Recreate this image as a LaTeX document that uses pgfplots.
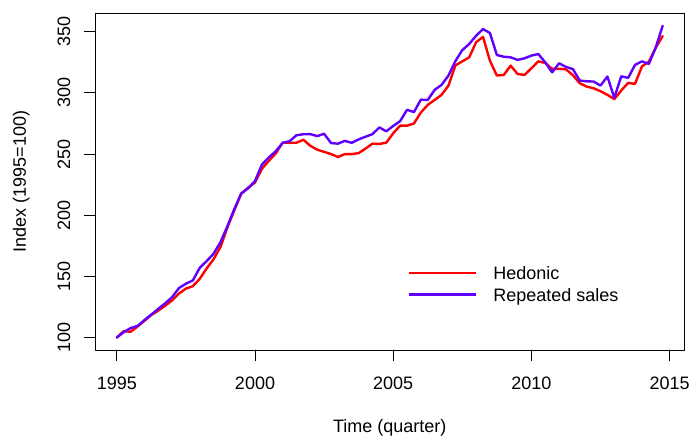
\documentclass[border=0pt]{standalone}
\usepackage{fontspec}
\setmainfont{Liberation Sans}
\usepackage{pgfplots}
\usepackage{pgfplotstable}
\pgfplotsset{compat=1.18}
\definecolor{hedred}{RGB}{255,0,0}
\definecolor{rsblue}{RGB}{95,0,255}

% quarterly index, 1995 = 100
\pgfplotstableread{
t hed rs
1995.00 100 100
1995.25 105.3 104.4
1995.50 104.7 107.7
1995.75 109 109.5
1996.00 113.7 114.3
1996.25 118.5 118.8
1996.50 122 123.5
1996.75 126 128
1997.00 130.4 133
1997.25 136 140.5
1997.50 140 144
1997.75 142 146.7
1998.00 148 157
1998.25 156.5 162.5
1998.50 164 168.5
1998.75 174 178
1999.00 190 191
1999.25 204 205
1999.50 217.7 217.7
1999.75 222.5 222
2000.00 226.8 228
2000.25 238 241.5
2000.50 244.5 247.3
2000.75 250.5 252.3
2001.00 259.3 259.2
2001.25 259.2 260.5
2001.50 259.3 265.4
2001.75 261.7 266.2
2002.00 256.8 266.3
2002.25 253.6 264.7
2002.50 251.8 266.6
2002.75 250 259
2003.00 247.6 258.5
2003.25 250 260.8
2003.50 250 259.2
2003.75 250.8 262
2004.00 254.5 264.2
2004.25 258.5 266.3
2004.50 258.3 271.8
2004.75 259.3 268.6
2005.00 267 273
2005.25 273.2 276.9
2005.50 273.2 286.2
2005.75 275 284.3
2006.00 284 294.5
2006.25 290.2 294.3
2006.50 294.3 302.5
2006.75 298.4 306.6
2007.00 306 314.2
2007.25 322.5 326
2007.50 325.8 335
2007.75 329.1 340
2008.00 341.5 346.8
2008.25 345.8 352.2
2008.50 326.3 349
2008.75 314.2 331
2009.00 314.7 329.6
2009.25 322.3 329.1
2009.50 315.5 327
2009.75 314.7 328.3
2010.00 320.1 330.5
2010.25 325.8 331.8
2010.50 324.5 325
2010.75 319.6 316.8
2011.00 319.8 324.2
2011.25 319.3 321.3
2011.50 314.5 319.5
2011.75 307.9 310.1
2012.00 305.2 309.5
2012.25 303.8 309.3
2012.50 301.4 306
2012.75 298.4 313.4
2013.00 295 296
2013.25 301.9 313.6
2013.50 308.2 312.3
2013.75 307.4 322.9
2014.00 321.7 325.8
2014.25 325.6 323.7
2014.50 337 337.2
2014.75 346.5 354.9
}\idx

\begin{document}
\begin{tikzpicture}[font=\fontsize{18}{21}\selectfont]
\useasboundingbox (0,0) rectangle (692pt,436pt);
\begin{axis}[
    at={(95pt,86pt)}, anchor=south west,
    scale only axis,
    width=589.5pt, height=336.7pt,
    xmin=1994.21, xmax=2015.54,
    ymin=89.8, ymax=365.1,
    xtick={1995,2000,2005,2010,2015},
    ytick={100,150,200,250,300,350},
    tick pos=left, tick align=outside,
    major tick length=10.7pt,
    axis line style={line width=1pt},
    every tick/.style={black, line width=1pt},
    /pgf/number format/assume math mode=true,
    /pgf/number format/set thousands separator={},
    xticklabel style={anchor=base, inner sep=0pt},
    xticklabel shift=28.3pt,
    yticklabel style={rotate=90, anchor=base, inner sep=0pt},
    yticklabel shift=14.3pt,
    xlabel={Time (quarter)},
    xlabel style={at={([yshift=-82pt]rel axis cs:0.5,0)}, anchor=base, inner sep=0pt},
    ylabel={Index (1995=100)},
    ylabel style={at={([xshift=-69pt]rel axis cs:0,0.5)}, anchor=base, inner sep=0pt},
    legend style={draw=none, fill=none, inner sep=0pt, outer sep=0pt,
        at={(rel axis cs:0.5310,0.1880)}, anchor=west, row sep=5.7pt,
        nodes={inner sep=0pt, text height=12pt, text depth=4pt}},
    legend image code/.code={\draw[#1] (0pt,3pt) -- (67pt,3pt);},
    legend cell align=left,
    /tikz/every odd column/.append style={column sep=16pt},
    line join=round, line cap=round,
]
\addplot[hedred, line width=2.4pt] table[x=t, y=hed] {\idx};
\addlegendentry{Hedonic}
\addplot[rsblue, line width=2.4pt] table[x=t, y=rs] {\idx};
\addlegendentry{Repeated sales}
\end{axis}
\end{tikzpicture}
\end{document}
